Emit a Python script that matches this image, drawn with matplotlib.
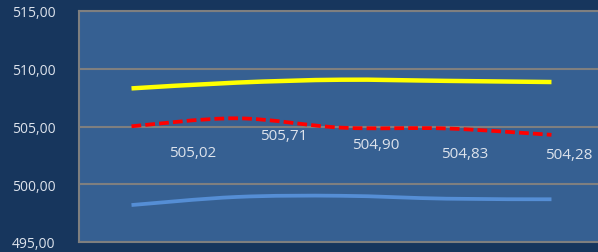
import numpy as np
import matplotlib
matplotlib.use("Agg")
import matplotlib.pyplot as plt
from matplotlib.path import Path
from matplotlib.patches import PathPatch

categories = [1, 2, 3, 4, 5]
upper = [508.30, 508.80, 509.05, 508.95, 508.85]
mean = [505.02, 505.71, 504.90, 504.83, 504.28]
lower = [498.20, 498.90, 499.00, 498.75, 498.70]
mean_labels = ["505,02", "505,71", "504,90", "504,83", "504,28"]
yticks = [495, 500, 505, 510, 515]

# label offsets in pixels (dx, dy downwards), as placed in the original
label_offsets = [(61, -26), (47, -17), (34, -17), (18, -25), (17, -20)]

plt.rcParams['font.family'] = ['Open Sans', 'DejaVu Sans']

FIG_BG = "#17365d"
AX_BG = "#366092"
GRID = "#7f7f7f"
TXT = "#dde3ec"


def smooth_path(xs, ys):
    # catmull-rom style bezier, like excel smoothed lines
    xs = np.asarray(xs, float)
    ys = np.asarray(ys, float)
    pts = np.column_stack([xs, ys])
    verts = [pts[0]]
    codes = [Path.MOVETO]
    n = len(pts)
    for i in range(n - 1):
        p0 = pts[i - 1] if i > 0 else pts[i]
        p1 = pts[i]
        p2 = pts[i + 1]
        p3 = pts[i + 2] if i + 2 < n else pts[i + 1]
        c1 = p1 + (p2 - p0) / 6.0
        c2 = p2 - (p3 - p1) / 6.0
        verts += [c1, c2, p2]
        codes += [Path.CURVE4] * 3
    return Path(verts, codes)


fig = plt.figure(figsize=(5.98, 2.53), dpi=100, facecolor=FIG_BG)
ax = fig.add_axes([79 / 598, 1 - 243 / 253, 1 - 79 / 598 + 0.01, 231 / 253])
ax.set_facecolor(AX_BG)

x = np.arange(len(categories))
ax.set_xlim(-0.5, len(categories) - 0.5)
ax.set_ylim(495, 515)

for ys, col, ls, lw in [(upper, "#ffff00", "-", 3.2),
                        (lower, "#558ed5", "-", 2.7),
                        (mean, "#ff0000", (0, (2.6, 1.1)), 2.7)]:
    patch = PathPatch(smooth_path(x, ys), facecolor="none", edgecolor=col,
                      linewidth=lw, linestyle=ls, capstyle="butt", zorder=3)
    ax.add_patch(patch)

for xi, yi, lab, (dx, dy) in zip(x, mean, mean_labels, label_offsets):
    ax.annotate(lab, (xi, yi), xytext=(dx * 0.72, dy * 0.72),
                textcoords="offset points", ha="center", va="center",
                color=TXT, fontsize=11, zorder=4)

ax.set_yticks(yticks)
ax.set_yticklabels([f"{v:.2f}".replace(".", ",") for v in yticks])
ax.set_xticks([])
ax.tick_params(axis="y", length=0, pad=17, colors=TXT, labelsize=10)
ax.grid(axis="y", color=GRID, linewidth=1.5)
ax.set_axisbelow(True)

for side in ["left", "top", "bottom"]:
    ax.spines[side].set_color(GRID)
    ax.spines[side].set_linewidth(1.5)
ax.spines["right"].set_visible(False)

fig.savefig("out.png", dpi=100, facecolor=FIG_BG)
